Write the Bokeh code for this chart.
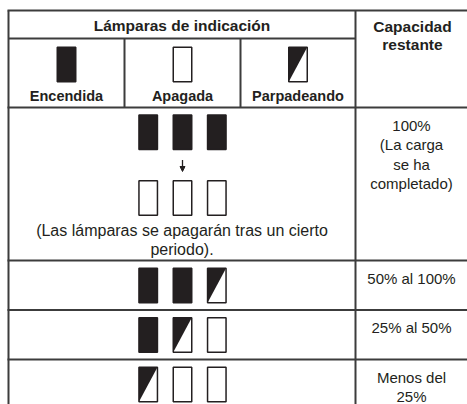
from bokeh.plotting import figure
from bokeh.models import Range1d, ColumnDataSource, Arrow, NormalHead
from bokeh.embed import file_html
from bokeh.resources import INLINE
from bokeh.core.properties import value

# ---------------- data ----------------
header_title = "Lámparas de indicación"
capacity_header = "Capacidad\nrestante"
legend_labels = ["Encendida", "Apagada", "Parpadeando"]
legend_states = ["on", "off", "blink"]
full_before = ["on", "on", "on"]
full_after = ["off", "off", "off"]
full_note = "(Las lámparas se apagarán tras un cierto\nperiodo)."
level_states = [["on", "on", "blink"],
                ["on", "blink", "off"],
                ["blink", "off", "off"]]
capacity_labels = ["100%\n(La carga\nse ha\ncompletado)",
                   "50% al 100%",
                   "25% al 50%",
                   "Menos del\n25%"]

# ---------------- layout ----------------
W, H = 467, 404
FONT = value("Liberation Sans")
INK = "#231f20"
GRID = "#3c3c3c"

x_left, x_c1, x_c2, x_cap, x_right = 8, 124, 240, 355, 467
y_top, y_head, y_leg, y_full = 10, 38, 107, 260
row_h = 49.5
level_tops = [y_full + i * row_h for i in range(len(level_states))]
y_bottom = level_tops[-1] + row_h + 10

lamp_w, lamp_h = 18.5, 34.5
lamp_gap = 34.3
lamps_cx = (x_left + x_cap) / 2 + 0.5
cap_cx = (x_cap + x_right) / 2

p = figure(width=W, height=H, output_backend="svg", toolbar_location=None,
           x_range=Range1d(0, W), y_range=Range1d(H, 0),
           min_border=0)
p.axis.visible = False
p.grid.visible = False
p.outline_line_color = None
p.background_fill_color = "white"
p.border_fill_color = "white"

# table lines
segs = dict(x0=[], y0=[], x1=[], y1=[])
def seg(a, b, c, d):
    segs["x0"].append(a); segs["y0"].append(b); segs["x1"].append(c); segs["y1"].append(d)

seg(x_left - 1, y_top, x_right + 2, y_top)
seg(x_left, y_head, x_cap, y_head)
seg(x_left - 1, y_leg, x_right + 2, y_leg)
seg(x_left - 1, y_full, x_right + 2, y_full)
for t in level_tops[1:]:
    seg(x_left - 1, t, x_right + 2, t)
seg(x_left, y_top, x_left, y_bottom)
seg(x_c1, y_head, x_c1, y_leg)
seg(x_c2, y_head, x_c2, y_leg)
seg(x_cap, y_top, x_cap, y_bottom)
p.segment("x0", "y0", "x1", "y1", source=ColumnDataSource(segs),
          line_color=GRID, line_width=2)

# lamps
lamps = dict(x=[], y=[], fill=[])
tri = dict(xs=[], ys=[])
def lamp(xc, yc, state):
    lamps["x"].append(xc); lamps["y"].append(yc)
    lamps["fill"].append(INK if state == "on" else "white")
    if state == "blink":
        x0, x1 = xc - lamp_w / 2, xc + lamp_w / 2
        y0, y1 = yc - lamp_h / 2, yc + lamp_h / 2
        tri["xs"].append([x0, x1, x0]); tri["ys"].append([y0, y0, y1])

leg_cx = [(x_left + x_c1) / 2, (x_c1 + x_c2) / 2, (x_c2 + x_cap) / 2]
for cx, st in zip(leg_cx, legend_states):
    lamp(cx, 64, st)

def row_lamps(states, yc):
    for i, st in enumerate(states):
        lamp(lamps_cx + (i - 1) * lamp_gap, yc, st)

row_lamps(full_before, 131.7)
row_lamps(full_after, 197.5)
for t, states in zip(level_tops, level_states):
    row_lamps(states, t + 25)

src = ColumnDataSource(lamps)
p.rect("x", "y", width=lamp_w, height=lamp_h, source=src,
       fill_color="fill", line_color=None)
p.patches("xs", "ys", source=ColumnDataSource(tri), fill_color=INK, line_color=None)
p.rect("x", "y", width=lamp_w, height=lamp_h, source=src,
       fill_color=None, line_color=INK, line_width=1.5)

# arrow between full rows
p.add_layout(Arrow(end=NormalHead(size=5, fill_color=INK, line_color=INK),
                   x_start=lamps_cx, y_start=159.5, x_end=lamps_cx, y_end=171,
                   line_color=INK, line_width=1.3))

# texts
p.text(x=[(x_left + x_cap) / 2], y=[25], text=[header_title],
       text_font=FONT, text_font_style="bold", text_font_size="15.5px",
       text_align="center", text_baseline="middle", text_color=INK)
p.text(x=[cap_cx + 1], y=[17], text=[capacity_header],
       text_font=FONT, text_font_style="bold", text_font_size="15.5px",
       text_align="center", text_baseline="top", text_color=INK,
       text_line_height=1.1)
p.text(x=leg_cx, y=[95] * 3, text=legend_labels,
       text_font=FONT, text_font_style="bold", text_font_size="14.5px",
       text_align="center", text_baseline="middle", text_color=INK)
p.text(x=[(x_left + x_cap) / 2], y=[221], text=[full_note],
       text_font=FONT, text_font_size="16px", text_line_height=1.15,
       text_align="center", text_baseline="top", text_color=INK)
cap_tops = [y_leg] + level_tops
p.text(x=[cap_cx] * len(capacity_labels), y=[t + 9 for t in cap_tops],
       text=capacity_labels, text_font=FONT, text_font_size="15px",
       text_line_height=1.15, text_align="center", text_baseline="top",
       text_color=INK)

open("out.html", "w").write(file_html(p, INLINE))
